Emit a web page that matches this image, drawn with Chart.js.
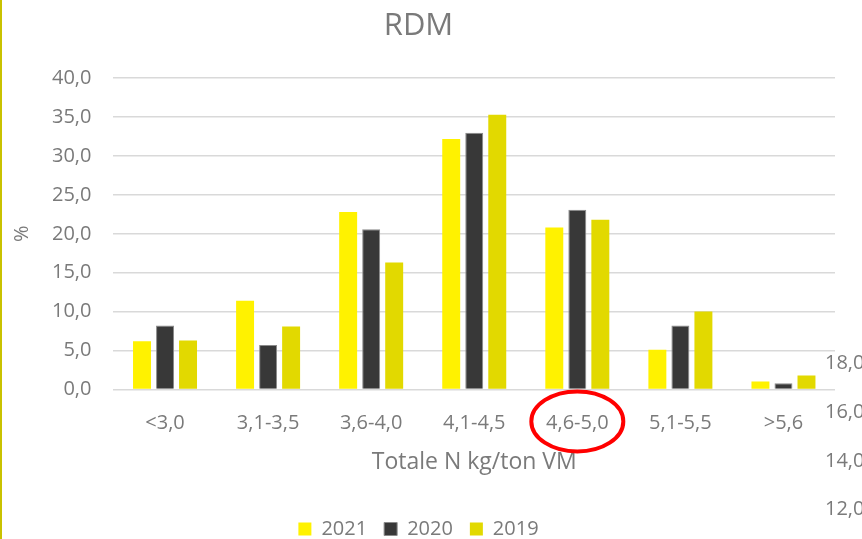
<!DOCTYPE html>
<html>
<head>
<meta charset="utf-8">
<script src="https://cdn.jsdelivr.net/npm/chart.js@4/dist/chart.umd.min.js"></script>
<style>
  html, body { margin: 0; padding: 0; background: #fff; overflow: hidden; }
  #wrap { position: relative; width: 862px; height: 539px; overflow: hidden; }
  #edge { position: absolute; left: 0; top: 0; width: 2px; height: 539px; background: #c9c200; }
  .side { position: absolute; left: 825px; font-family: "Open Sans", sans-serif; font-size: 20px; line-height: 24px; color: #7a7a7a; white-space: nowrap; }
</style>
</head>
<body>
<div id="wrap">
  <canvas id="myChart" width="862" height="539"></canvas>
  <div id="edge"></div>
  <div class="side" style="top:350px">18,0</div>
  <div class="side" style="top:399px">16,0</div>
  <div class="side" style="top:448px">14,0</div>
  <div class="side" style="top:496px">12,0</div>
</div>
<script>
// categories and series
const categories = ["<3,0", "3,1-3,5", "3,6-4,0", "4,1-4,5", "4,6-5,0", "5,1-5,5", ">5,6"];
const values2021 = [6.2, 11.4, 22.8, 32.2, 20.8, 5.1, 1.0];
const values2020 = [8.2, 5.7, 20.6, 33.0, 23.1, 8.2, 0.8];
const values2019 = [6.3, 8.1, 16.3, 35.3, 21.8, 10.0, 1.8];
const yTicks = [0, 5, 10, 15, 20, 25, 30, 35, 40];
const highlightIndex = 4;

const grey = "#7a7a7a";
const font = "'Open Sans', sans-serif";

// red ring round one category label
const ringPlugin = {
    id: "ring",
    afterDraw(chart) {
        const x = chart.scales.x.getPixelForValue(highlightIndex);
        const y = chart.scales.x.top + 32;
        const ctx = chart.ctx;
        ctx.save();
        ctx.strokeStyle = "#ff0000";
        ctx.lineWidth = 4;
        ctx.beginPath();
        ctx.ellipse(x, y, 46, 30, 0, 0, Math.PI * 2);
        ctx.stroke();
        ctx.restore();
    }
};

const myChartRef = document.getElementById("myChart").getContext("2d");
new Chart(myChartRef, {
    type: "bar",
    data: {
        labels: categories,
        datasets: [
            { label: "2021", data: values2021, backgroundColor: "#fff200", borderWidth: 0 },
            { label: "2020", data: values2020, backgroundColor: "#383838", borderColor: "#8a8a8a", borderWidth: 1 },
            { label: "2019", data: values2019, backgroundColor: "#e2d900", borderWidth: 0 }
        ]
    },
    options: {
        responsive: false,
        animation: false,
        layout: { padding: { left: 2, right: 27, top: 4, bottom: -10 } },
        datasets: { bar: { categoryPercentage: 0.67, barPercentage: 0.78 } },
        plugins: {
            title: {
                display: true,
                text: "RDM",
                color: grey,
                font: { family: font, size: 31, weight: "normal" },
                padding: { top: 4, bottom: 33 }
            },
            legend: {
                position: "bottom",
                labels: {
                    color: grey,
                    font: { family: font, size: 20 },
                    boxWidth: 13,
                    boxHeight: 13,
                    padding: 17
                }
            },
            tooltip: { enabled: false }
        },
        scales: {
            x: {
                grid: { display: false },
                border: { display: false },
                ticks: { color: grey, font: { family: font, size: 20 }, padding: 14 },
                title: {
                    display: true,
                    text: "Totale N kg/ton VM",
                    color: grey,
                    font: { family: font, size: 23 },
                    padding: { top: -1, bottom: 26 }
                }
            },
            y: {
                min: 0,
                max: 40,
                afterBuildTicks(axis) { axis.ticks = yTicks.map(v => ({ value: v })); },
                grid: { color: "#d9d9d9", lineWidth: 1.5, drawTicks: false },
                border: { display: false },
                ticks: {
                    color: grey,
                    font: { family: font, size: 20 },
                    padding: 22,
                    callback: v => v.toFixed(1).replace(".", ",")
                },
                title: {
                    display: true,
                    text: "%",
                    color: grey,
                    font: { family: font, size: 20 },
                    padding: { top: 8, bottom: -4 }
                }
            }
        }
    },
    plugins: [ringPlugin]
});
</script>
</body>
</html>
